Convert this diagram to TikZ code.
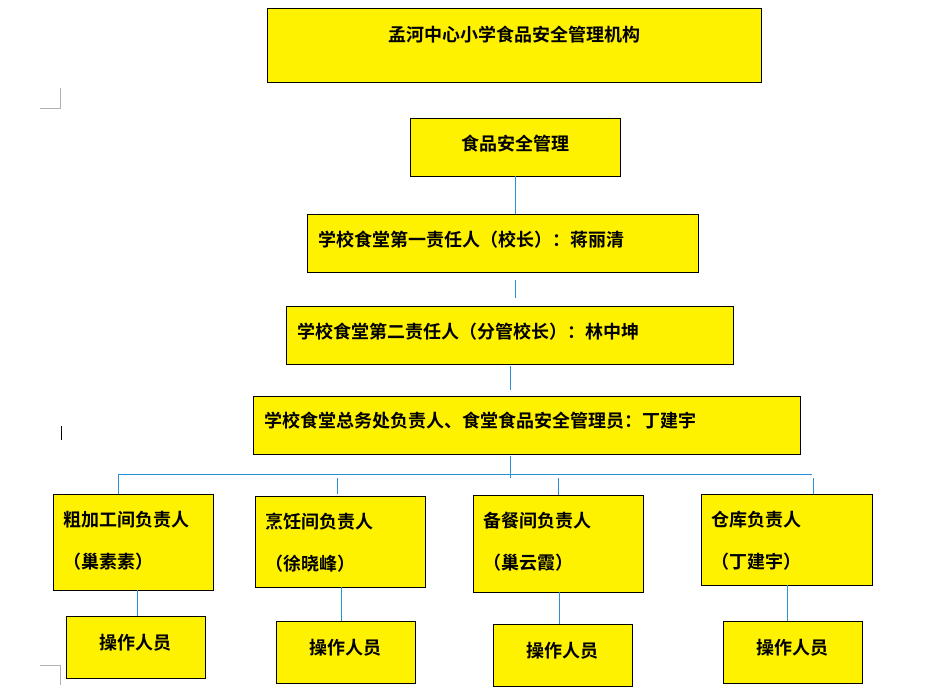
\documentclass[tikz,border=0pt]{standalone}
\usepackage{fontspec}
\newfontfamily\cjk{Noto Sans CJK SC}[BoldFont={* Bold}]
\begin{document}
\begin{tikzpicture}[x=1pt,y=-1pt,
  bx/.style={draw=black,fill=yellow,line width=0.8pt},
  tx/.style={font=\cjk\bfseries\fontsize{18}{22}\selectfont,anchor=west,inner sep=0pt},
  ln/.style={draw=blue!40!cyan!70!gray,line width=0.8pt}]
\useasboundingbox (0,0) rectangle (942,696);
\fill[white] (0,0) rectangle (942,696);
\draw[gray!60] (40,108)--(60,108)--(60,88);
\draw[gray!60] (40,665)--(60,665)--(60,685);
\draw[black,line width=1pt] (61,426)--(61,440);
\draw[bx] (267,8) rectangle (761,82);
\node[tx,anchor=center] (t) at (514,35) {孟河中心小学食品安全管理机构};
\draw[bx] (410,118) rectangle (620,176);
\node[tx,anchor=center] (a) at (515,144) {食品安全管理};
\draw[bx] (307,214) rectangle (698,272);
\node[tx] (b) at (318,240) {学校食堂第一责任人（校长）：蒋丽清};
\draw[bx] (286,306) rectangle (733,364);
\node[tx] (c) at (297,332) {学校食堂第二责任人（分管校长）：林中坤};
\draw[bx] (253,396) rectangle (800,454);
\node[tx] (d) at (264,421) {学校食堂总务处负责人、食堂食品安全管理员：丁建宇};
\foreach \x/\y/\w/\h/\a/\b in {53/494/160/96/粗加工间负责人/巢素素, 255/496/170/91/烹饪间负责人/徐晓峰, 473/495/170/97/备餐间负责人/巢云霞, 701/494/171/91/仓库负责人/丁建宇}{
  \draw[bx] (\x,\y) rectangle ++(\w,\h);
  \node[tx] at (\x+10,\y+26) {\a};
  \node[tx] at (\x+10,\y+68) {（\b）};
}
\foreach \x/\y in {66/616,276/621,493/624,723/621}{
  \draw[bx] (\x,\y) rectangle ++(139,62);
  \node[tx,anchor=center] at (\x+69.5,\y+27) {操作人员};
}
\draw[ln] (515,176)--(515,214);
\draw[ln] (515,280)--(515,298);
\draw[ln] (510,366)--(510,390);
\draw[ln] (510,456)--(510,478);
\draw[ln] (118,474)--(812,474);
\draw[ln] (118,474)--(118,494);
\draw[ln] (337,478)--(337,494);
\draw[ln] (558,478)--(558,495);
\draw[ln] (813,478)--(813,494);
\draw[ln] (137,590)--(137,616);
\draw[ln] (341,587)--(341,621);
\draw[ln] (559,592)--(559,624);
\draw[ln] (787,585)--(787,621);
\end{tikzpicture}
\end{document}
